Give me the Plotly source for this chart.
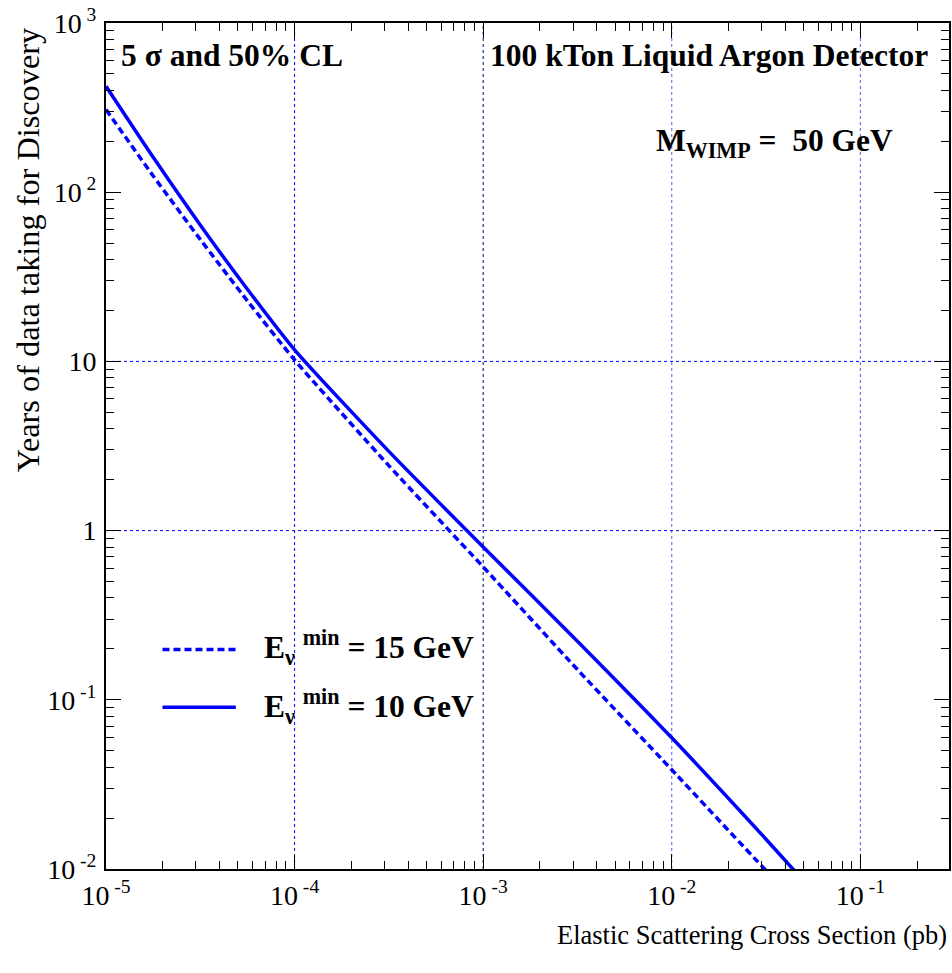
import plotly.graph_objects as go

# ---- data ----
cross_section = [1e-5, 1.78e-5, 3.16e-5, 5.62e-5, 1e-4, 3.16e-4, 1e-3, 3.16e-3, 1e-2, 3.16e-2, 6.3e-2]
years_10gev = [423, 160.7, 64.0, 26.7, 11.7, 2.94, 0.80, 0.222, 0.0596, 0.0150, 0.0064]
years_15gev = [308, 124.7, 52.6, 22.8, 10.2, 2.42, 0.61, 0.151, 0.0386, 0.0098, 0.0044]

x_tick_vals = [1e-5, 1e-4, 1e-3, 1e-2, 1e-1]
x_tick_text = ["10<sup> -5</sup>", "10<sup> -4</sup>", "10<sup> -3</sup>", "10<sup> -2</sup>", "10<sup> -1</sup>"]
y_tick_vals = [1e-2, 1e-1, 1, 10, 1e2, 1e3]
y_tick_text = ["10<sup> -2</sup>", "10<sup> -1</sup>", "1", "10", "10<sup> 2</sup>", "10<sup> 3</sup>"]
grid_x = [1e-4, 1e-3, 1e-2, 1e-1]
grid_y = [1, 10]

FONT = "Liberation Serif"
BLUE = "#0000ff"
grid_x_colors = ["#0000ff", "#000070", "#5555ff", "#5555ff"]

fig = go.Figure()
fig.add_trace(go.Scatter(x=cross_section, y=years_15gev, mode="lines",
                         line=dict(color=BLUE, width=3.5, dash="7px,4px", shape="spline", smoothing=0.6),
                         name="15 GeV", showlegend=False, cliponaxis=True))
fig.add_trace(go.Scatter(x=cross_section, y=years_10gev, mode="lines",
                         line=dict(color=BLUE, width=3.5, shape="spline", smoothing=0.6),
                         name="10 GeV", showlegend=False, cliponaxis=True))

shapes = []
for gx, gc in zip(grid_x, grid_x_colors):
    shapes.append(dict(type="line", xref="x", yref="paper", x0=gx, x1=gx, y0=0, y1=1,
                       line=dict(color=gc, width=1, dash="dot"), layer="below"))
for gy in grid_y:
    shapes.append(dict(type="line", xref="paper", yref="y", x0=0, x1=1, y0=gy, y1=gy,
                       line=dict(color=BLUE, width=1, dash="dot"), layer="below"))
# legend keys
shapes.append(dict(type="line", xref="paper", yref="paper", x0=0.067, x1=0.154, y0=0.2595, y1=0.2595,
                   line=dict(color=BLUE, width=3.5, dash="7px,4px")))
shapes.append(dict(type="line", xref="paper", yref="paper", x0=0.067, x1=0.154, y0=0.1913, y1=0.1913,
                   line=dict(color=BLUE, width=3.5)))

axis_common = dict(
    type="log", showline=True, linecolor="black", linewidth=2, mirror="allticks",
    ticks="inside", ticklen=15, tickwidth=1, tickcolor="black",
    showgrid=False, zeroline=False, tickmode="array",
    tickfont=dict(family=FONT, size=28, color="black"),
    minor=dict(ticks="inside", ticklen=8, tickwidth=1, tickcolor="black", dtick="D1", showgrid=False),
)

fig.update_layout(
    width=952, height=973,
    margin=dict(l=106, r=1, t=23, b=104),
    paper_bgcolor="white", plot_bgcolor="white",
    font=dict(family=FONT, color="black"),
    xaxis=dict(axis_common, range=[-5, -0.53], tickvals=x_tick_vals, ticktext=x_tick_text),
    yaxis=dict(axis_common, range=[-2, 3], tickvals=y_tick_vals, ticktext=y_tick_text,
               ticklabelstandoff=2),
    shapes=shapes,
    showlegend=False,
)

ann = []
ann.append(dict(text="Years of data taking for Discovery", xref="paper", yref="paper",
                x=-0.0924, y=0.997, xanchor="center", yanchor="top", textangle=-90,
                showarrow=False, font=dict(family=FONT, size=32.3)))
ann.append(dict(text="Elastic Scattering Cross Section (pb)", xref="paper", yref="paper",
                x=1.0, y=-0.0785, xanchor="right", yanchor="middle",
                showarrow=False, font=dict(family=FONT, size=26.5)))
ann.append(dict(text="<b>5 σ and 50% CL</b>", xref="paper", yref="paper",
                x=0.0155, y=0.961, xanchor="left", yanchor="middle",
                showarrow=False, font=dict(family=FONT, size=31.5)))
ann.append(dict(text="<b>100 kTon Liquid Argon Detector</b>", xref="paper", yref="paper",
                x=0.9775, y=0.961, xanchor="right", yanchor="middle",
                showarrow=False, font=dict(family=FONT, size=31.5)))
ann.append(dict(text="<b>M<sub>WIMP</sub> =  50 GeV</b>", xref="paper", yref="paper",
                x=0.6495, y=0.8576, xanchor="left", yanchor="middle",
                showarrow=False, font=dict(family=FONT, size=31.5)))
ann.append(dict(text="<b>E<sub>ν</sub> <sup>min</sup> = 15 GeV</b>", xref="paper", yref="paper",
                x=0.1855, y=0.2619, xanchor="left", yanchor="middle",
                showarrow=False, font=dict(family=FONT, size=31.5)))
ann.append(dict(text="<b>E<sub>ν</sub> <sup>min</sup> = 10 GeV</b>", xref="paper", yref="paper",
                x=0.1855, y=0.192, xanchor="left", yanchor="middle",
                showarrow=False, font=dict(family=FONT, size=31.5)))
fig.update_layout(annotations=ann)

fig.write_html("out.html", config={"displayModeBar": False},
               post_script="document.body.style.margin='0';")
